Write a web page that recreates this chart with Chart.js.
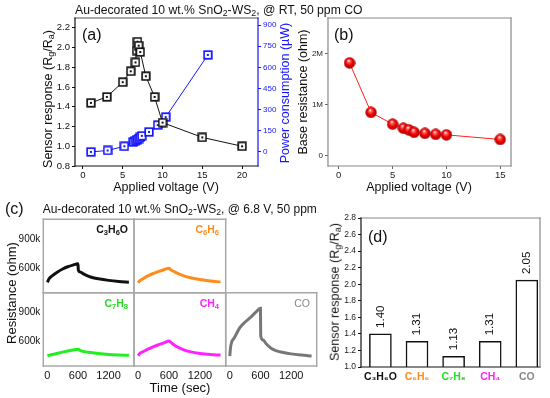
<!DOCTYPE html>
<html><head><meta charset="utf-8">
<script src="https://cdn.jsdelivr.net/npm/chart.js@4/dist/chart.umd.min.js"></script>
<style>
html,body{margin:0;padding:0;background:#fff;}
#wrap{position:relative;width:550px;height:398px;overflow:hidden;font-family:"Liberation Sans",Arial,sans-serif;color:#111;}
canvas{position:absolute;left:0;top:0;}
.t{position:absolute;white-space:nowrap;line-height:1;}
.lc,.rc{transform:translateY(-50%);}
.cen{transform:translate(-50%,-50%);}
.rot{transform:translate(-50%,-50%) rotate(-90deg);}
sub{font-size:0.72em;vertical-align:-0.25em;line-height:0;}
</style></head><body><div id="wrap">
<canvas id="cA" width="550" height="398"></canvas>
<canvas id="cB" width="550" height="398"></canvas>
<canvas id="c1" width="550" height="398"></canvas>
<canvas id="c2" width="550" height="398"></canvas>
<canvas id="c3" width="550" height="398"></canvas>
<canvas id="c4" width="550" height="398"></canvas>
<canvas id="c5" width="550" height="398"></canvas>
<canvas id="cD" width="550" height="398"></canvas>

<div class="t lc" style="left:75px;top:10px;font-size:12.2px">Au-decorated 10 wt.% SnO<sub>2</sub>-WS<sub>2</sub>, @ RT, 50 ppm CO</div>
<div class="t lc" style="left:82px;top:35px;font-size:16px">(a)</div>
<div class="t lc" style="left:334px;top:35px;font-size:16px">(b)</div>
<div class="t rot" style="left:48px;top:99px;font-size:12.5px">Sensor response (R<sub>g</sub>/R<sub>a</sub>)</div>
<div class="t rot" style="left:285px;top:93px;font-size:12.5px;color:#1515ff">Power consumption (µW)</div>
<div class="t rot" style="left:302.5px;top:92px;font-size:12.5px">Base resistance (ohm)</div>
<div class="t cen" style="left:166px;top:186.5px;font-size:12.5px">Applied voltage (V)</div>
<div class="t cen" style="left:419px;top:186.5px;font-size:12.5px">Applied voltage (V)</div>
<div class="t lc" style="left:5px;top:209px;font-size:16px">(c)</div>
<div class="t lc" style="left:42.7px;top:209px;font-size:12px">Au-decorated 10 wt.% SnO<sub>2</sub>-WS<sub>2</sub>, @ 6.8 V, 50 ppm</div>
<div class="t rot" style="left:11px;top:292.5px;font-size:13px">Resistance (ohm)</div>
<div class="t cen" style="left:180px;top:386.5px;font-size:13px">Time (sec)</div>
<div class="t rc" style="right:422px;top:229px;font-size:10.5px;font-weight:bold">C<sub>3</sub>H<sub>6</sub>O</div>
<div class="t rc" style="right:331px;top:229px;font-size:10.5px;font-weight:bold;color:#ff8c1a">C<sub>6</sub>H<sub>6</sub></div>
<div class="t rc" style="right:422px;top:303px;font-size:10.5px;font-weight:bold;color:#22dd22">C<sub>7</sub>H<sub>8</sub></div>
<div class="t rc" style="right:331px;top:303px;font-size:10.5px;font-weight:bold;color:#ff22ff">CH<sub>4</sub></div>
<div class="t rc" style="right:240px;top:303px;font-size:10.5px;color:#888">CO</div>
<div class="t lc" style="left:368px;top:236.7px;font-size:16px">(d)</div>
<div class="t rot" style="left:334.7px;top:291.7px;font-size:12.5px">Sensor response (R<sub>g</sub>/R<sub>a</sub>)</div>
</div>
<script>
// ---------- data ----------
// (a) sensor response vs applied voltage
const voltA = [1, 3, 5, 6, 6.6, 6.75, 6.85, 7.0, 7.2, 7.9, 9, 10, 15, 20];
const respA = [1.44, 1.50, 1.65, 1.76, 1.85, 1.97, 2.06, 2.02, 1.955, 1.71, 1.50, 1.24, 1.09, 1.00];
// (a) power consumption (µW)
const voltPow = [1.0, 3.1, 5.2, 6.3, 6.6, 6.8, 7.0, 7.2, 7.4, 8.3, 9.4, 10.4, 15.7];
const powerA = [0, 10, 40, 70, 80, 88, 95, 104, 114, 142, 190, 247, 688];
const ticksAx = [0, 5, 10, 15, 20];
const ticksAyL = [0.8, 1.0, 1.2, 1.4, 1.6, 1.8, 2.0, 2.2];
const ticksAyR = [0, 150, 300, 450, 600, 750, 900];
// (b) base resistance (ohm)
const voltB = [1, 3, 5, 6, 6.5, 7, 8, 9, 10, 15];
const baseB = [1820000, 850000, 620000, 540000, 510000, 460000, 440000, 420000, 410000, 320000];
const ticksBx = [0, 5, 10, 15];
const ticksBy = [0, 1000000, 2000000];
const labelsBy = ['0', '1M', '2M'];
// (c) transient resistance (kOhm) vs time (s)
const timeC3H6O = [0, 30, 100, 200, 300, 400, 500, 600, 608, 650, 700, 800, 900, 1000, 1200, 1400, 1600];
const resC3H6O  = [455, 490, 525, 562, 592, 615, 632, 645, 580, 560, 545, 520, 503, 492, 476, 465, 458];
const timeC6H6  = [0, 30, 100, 200, 300, 400, 500, 600, 620, 700, 800, 900, 1000, 1200, 1400, 1600];
const resC6H6   = [452, 470, 495, 525, 548, 568, 585, 600, 590, 565, 540, 520, 505, 485, 470, 460];
const timeC7H8  = [0, 100, 200, 300, 400, 500, 600, 650, 700, 800, 1000, 1200, 1400, 1600];
const resC7H8   = [455, 468, 480, 492, 503, 513, 522, 507, 500, 490, 477, 468, 463, 460];
const timeCH4   = [0, 30, 100, 200, 300, 400, 500, 600, 650, 700, 800, 900, 1000, 1200, 1400, 1600];
const resCH4    = [455, 478, 498, 525, 548, 568, 587, 605, 585, 565, 535, 512, 497, 478, 467, 462];
const timeCO    = [0, 15, 40, 70, 100, 200, 300, 400, 500, 600, 605, 650, 720, 800, 900, 1050, 1200, 1400, 1600];
const resCO     = [450, 540, 600, 625, 650, 745, 800, 845, 895, 940, 660, 615, 572, 535, 508, 488, 474, 462, 453];
const ticksCx = [0, 600, 1200];
const ticksCy = [600, 900];
// (d) sensor response per gas
const gases = ['C\u2083H\u2086O', 'C\u2086H\u2086', 'C\u2087H\u2088', 'CH\u2084', 'CO'];
const gasColors = ['#111111', '#ff8c1a', '#22dd22', '#ff22ff', '#888888'];
const responseD = [1.40, 1.31, 1.13, 1.31, 2.05];
const ticksDy = [1.0, 1.2, 1.4, 1.6, 1.8, 2.0, 2.2, 2.4, 2.6, 2.8];

// ---------- helpers ----------
Chart.defaults.font.family = '"Liberation Sans", Arial, sans-serif';
Chart.defaults.color = '#111';
const W = 550, H = 398;
function pad(L, T, R, B, wl, wr, hb) { return {left: L - wl, top: T, right: W - R - wr, bottom: H - B - hb}; }
function setTicks(arr) { return s => { s.ticks = arr.map(v => ({value: v})); }; }
function fitW(w) { return s => { s.width = w; }; }
function fitH(h) { return s => { s.height = h; }; }
function pts(xs, ys) { return xs.map((x, i) => ({x: x, y: ys[i]})); }

const framePlugin = {
  id: 'frame',
  afterDatasetsDraw(chart, args, o) {
    if (!o || !o.sides) return;
    const {left, top, right, bottom} = chart.chartArea;
    const c = chart.ctx; c.save(); c.lineWidth = o.width || 1.2; c.lineCap = 'square';
    const seg = (col, x1, y1, x2, y2) => { if (!col) return; c.strokeStyle = col; c.beginPath(); c.moveTo(x1, y1); c.lineTo(x2, y2); c.stroke(); };
    seg(o.sides.top, left, top, right, top);
    seg(o.sides.bottom, left, bottom, right, bottom);
    seg(o.sides.left, left, top, left, bottom);
    seg(o.sides.right, right, top, right, bottom);
    c.restore();
  }
};
const barLabelPlugin = {
  id: 'barLabels',
  afterDatasetsDraw(chart, args, o) {
    if (!o || !o.on) return;
    const c = chart.ctx;
    const meta = chart.getDatasetMeta(0);
    c.save(); c.fillStyle = '#111'; c.font = '11.5px "Liberation Sans", Arial, sans-serif';
    c.textAlign = 'left'; c.textBaseline = 'middle';
    meta.data.forEach((bar, i) => {
      c.save(); c.translate(bar.x, bar.y - 6); c.rotate(-Math.PI / 2);
      c.fillText(responseD[i].toFixed(2), 0, 0); c.restore();
    });
    c.restore();
  }
};
Chart.register(framePlugin, barLabelPlugin);

function squareSprite(size, color) {
  const c = document.createElement('canvas'); c.width = c.height = size;
  const g = c.getContext('2d');
  g.fillStyle = '#fff'; g.fillRect(1, 1, size - 2, size - 2);
  g.strokeStyle = color; g.lineWidth = 1.7; g.strokeRect(1.2, 1.2, size - 2.4, size - 2.4);
  g.fillStyle = color; g.fillRect(size / 2 - 1, size / 2 - 1, 2, 2);
  return c;
}
function ballSprite(d) {
  const c = document.createElement('canvas'); c.width = c.height = d;
  const g = c.getContext('2d'); const r = d / 2;
  const grd = g.createRadialGradient(r * 0.85, r * 0.6, 0.3, r, r, r);
  grd.addColorStop(0, '#ffffff'); grd.addColorStop(0.2, '#ff6060');
  grd.addColorStop(0.55, '#f20000'); grd.addColorStop(1, '#9a0000');
  g.fillStyle = grd; g.beginPath(); g.arc(r, r, r - 0.3, 0, Math.PI * 2); g.fill();
  return c;
}
const base = {responsive: false, animation: false, devicePixelRatio: 1, events: []};
const noLegend = {legend: {display: false}, tooltip: {enabled: false}};
function tickGrid(color) { return {display: true, drawOnChartArea: false, drawTicks: true, tickLength: 3, color: color, lineWidth: 1}; }
const noGrid = {display: false, drawTicks: false, tickLength: 0, offset: false};

// ---------- (a) ----------
new Chart(document.getElementById('cA'), {
  type: 'line',
  data: {datasets: [
    {data: pts(voltA, respA), yAxisID: 'y', borderColor: '#111', borderWidth: 1, pointStyle: squareSprite(10, '#111'), pointRadius: 5},
    {data: pts(voltPow, powerA), yAxisID: 'y2', borderColor: '#1515ff', borderWidth: 1, pointStyle: squareSprite(10, '#1515ff'), pointRadius: 5}
  ]},
  options: Object.assign({}, base, {
    layout: {padding: pad(75, 18, 258, 166, 40, 40, 20)},
    plugins: Object.assign({}, noLegend, {frame: {sides: {top: '#555', left: '#111', bottom: '#111', right: '#1515ff'}}}),
    scales: {
      x: {type: 'linear', min: -1, max: 22, afterBuildTicks: setTicks(ticksAx), afterFit: fitH(20),
          grid: tickGrid('#111'), border: {display: false}, ticks: {font: {size: 9.5}, padding: 1, maxRotation: 0, autoSkip: false, color: '#111'}},
      y: {type: 'linear', position: 'left', min: 0.8, max: 2.3, afterBuildTicks: setTicks(ticksAyL), afterFit: fitW(40),
          grid: tickGrid('#111'), border: {display: false}, ticks: {font: {size: 9.5}, padding: 2, autoSkip: false, color: '#111', callback: v => v.toFixed(1)}},
      y2: {type: 'linear', position: 'right', min: -100, max: 950, afterBuildTicks: setTicks(ticksAyR), afterFit: fitW(40),
          grid: tickGrid('#1515ff'), border: {display: false}, ticks: {font: {size: 8}, padding: 2, autoSkip: false, color: '#1515ff', callback: v => String(v)}}
    }
  })
});

// ---------- (b) ----------
new Chart(document.getElementById('cB'), {
  type: 'line',
  data: {datasets: [
    {data: pts(voltB, baseB), borderColor: '#ff2020', borderWidth: 1, pointStyle: ballSprite(12), pointRadius: 6}
  ]},
  options: Object.assign({}, base, {
    layout: {padding: pad(328, 18, 511, 166, 20, 0, 20)},
    plugins: Object.assign({}, noLegend, {frame: {sides: {top: '#888', left: '#888', bottom: '#888', right: '#888'}}}),
    scales: {
      x: {type: 'linear', min: -1, max: 16, afterBuildTicks: setTicks(ticksBx), afterFit: fitH(20),
          grid: tickGrid('#666'), border: {display: false}, ticks: {font: {size: 9.5}, padding: 1, maxRotation: 0, autoSkip: false, color: '#222'}},
      y: {type: 'linear', min: -200000, max: 2700000, afterBuildTicks: setTicks(ticksBy), afterFit: fitW(20),
          grid: tickGrid('#666'), border: {display: false}, ticks: {font: {size: 8}, padding: 2, autoSkip: false, color: '#222', callback: (v, i) => labelsBy[i]}}
    }
  })
});

// ---------- (c) ----------
function cell(id, L, T, R, B, t, r, color, showY, showX) {
  new Chart(document.getElementById(id), {
    type: 'line',
    data: {datasets: [{data: pts(t, r), borderColor: color, borderWidth: 3, pointRadius: 0, cubicInterpolationMode: 'monotone'}]},
    options: Object.assign({}, base, {
      layout: {padding: pad(L, T, R, B, 40, 0, 20)},
      plugins: Object.assign({}, noLegend, {frame: {width: 1.5, sides: {top: '#a8a8a8', left: '#a8a8a8', bottom: '#a8a8a8', right: '#a8a8a8'}}}),
      scales: {
        x: {type: 'linear', min: -80, max: 1700, afterBuildTicks: setTicks(ticksCx), afterFit: fitH(20),
            grid: noGrid, border: {display: false},
            ticks: {display: showX, font: {size: 11}, padding: 3, maxRotation: 0, autoSkip: false, color: '#111', callback: v => String(v)}},
        y: {type: 'linear', min: 350, max: 1100, afterBuildTicks: setTicks(ticksCy), afterFit: fitW(40),
            grid: noGrid, border: {display: false},
            ticks: {display: showY, font: {size: 10}, padding: 3, autoSkip: false, color: '#111', callback: v => v + 'k'}}
      }
    })
  });
}
cell('c1', 43.3, 219.3, 134, 292.7, timeC3H6O, resC3H6O, '#111111', true, false);
cell('c2', 134, 219.3, 225.7, 292.7, timeC6H6, resC6H6, '#ff8c1a', false, false);
cell('c3', 43.3, 292.7, 134, 366, timeC7H8, resC7H8, '#22ee22', true, true);
cell('c4', 134, 292.7, 225.7, 366, timeCH4, resCH4, '#ff22ff', false, true);
cell('c5', 225.7, 292.7, 316.7, 366, timeCO, resCO, '#777777', false, true);

// ---------- (d) ----------
new Chart(document.getElementById('cD'), {
  type: 'bar',
  data: {datasets: [{data: gases.map((g, i) => ({x: i, y: responseD[i]})), backgroundColor: '#ffffff', borderColor: '#111',
    borderWidth: 1.5, borderSkipped: 'start', barThickness: 22}]},
  options: Object.assign({}, base, {
    layout: {padding: pad(361, 218, 540, 367, 30, 0, 20)},
    plugins: Object.assign({}, noLegend, {barLabels: {on: true}, frame: {sides: {top: '#888', left: '#111', bottom: '#111', right: '#888'}}}),
    scales: {
      x: {type: 'linear', offset: false, min: -0.53, max: 4.36, afterBuildTicks: setTicks([0, 1, 2, 3, 4]), afterFit: fitH(20),
          grid: noGrid, border: {display: false},
          ticks: {font: {size: 10.5, weight: 'bold'}, padding: 4, maxRotation: 0, autoSkip: false, color: ctx => gasColors[ctx.index], callback: (v, i) => gases[i]}},
      y: {type: 'linear', min: 1.0, max: 2.8, afterBuildTicks: setTicks(ticksDy), afterFit: fitW(30),
          grid: tickGrid('#111'), border: {display: false}, ticks: {font: {size: 8.5}, padding: 2, autoSkip: false, color: '#222', callback: v => v.toFixed(1)}}
    }
  })
});
</script>
</body></html>
